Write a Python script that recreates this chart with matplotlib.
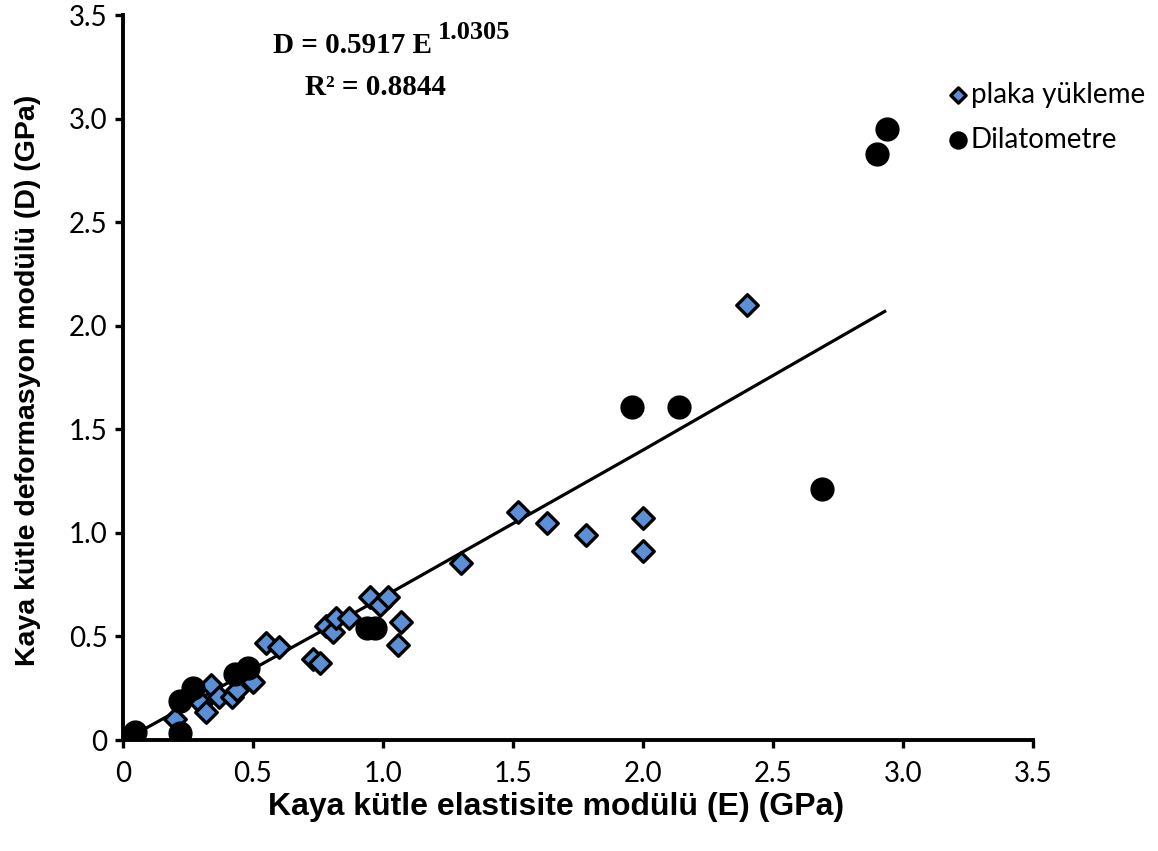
import numpy as np
import matplotlib
matplotlib.use("Agg")
import matplotlib.pyplot as plt

# plaka yükleme (plate loading) points
plaka_E = [0.20, 0.30, 0.32, 0.34, 0.37, 0.42, 0.44, 0.50, 0.55, 0.60,
           0.73, 0.76, 0.78, 0.81, 0.82, 0.87, 0.95, 0.99, 1.02, 1.06,
           1.07, 1.30, 1.52, 1.63, 1.78, 2.00, 2.00, 2.40]
plaka_D = [0.10, 0.18, 0.135, 0.265, 0.21, 0.21, 0.24, 0.28, 0.47, 0.45,
           0.39, 0.37, 0.55, 0.52, 0.59, 0.59, 0.69, 0.65, 0.69, 0.46,
           0.57, 0.855, 1.10, 1.05, 0.99, 1.07, 0.915, 2.10]

# Dilatometre points
dila_E = [0.046, 0.22, 0.22, 0.27, 0.43, 0.48, 0.94, 0.97, 1.96, 2.14,
          2.69, 2.90, 2.94]
dila_D = [0.04, 0.035, 0.19, 0.25, 0.32, 0.35, 0.54, 0.54, 1.61, 1.61,
          1.21, 2.83, 2.95]

# trend line as drawn
trend_E = [0.05, 1.0, 2.0, 2.93]
trend_D = [0.03, 0.69, 1.40, 2.07]

xticks = [0, 0.5, 1.0, 1.5, 2.0, 2.5, 3.0, 3.5]
xlabels = ["0", "0.5", "1.0", "1.5", "2.0", "2.5", "3.0", "3.5"]
yticks = xticks
ylabels = xlabels

tick_font = "Lato"
label_font = "Liberation Sans"
eq_font = "Liberation Serif"

fig = plt.figure(figsize=(11.58, 8.51), dpi=100)
ax = fig.add_axes([0.106, 0.1304, 0.786, 0.8516])

ax.plot(trend_E, trend_D, color="black", lw=2.3, zorder=2)
ax.scatter(plaka_E, plaka_D, marker="D", s=120, color="#5b8fd6",
           edgecolor="black", linewidths=2.4, zorder=3, label="plaka yükleme")
ax.scatter(dila_E, dila_D, marker="o", s=270, color="black",
           edgecolor="black", zorder=4, label="Dilatometre")

ax.set_xlim(0, 3.5)
ax.set_ylim(0, 3.5)
ax.set_xticks(xticks)
ax.set_xticklabels(xlabels)
ax.set_yticks(yticks)
ax.set_yticklabels(ylabels)
for lab in ax.get_xticklabels() + ax.get_yticklabels():
    lab.set_fontfamily(tick_font)
    lab.set_fontsize(20)
ax.tick_params(direction="out", length=6, width=2.4)
ax.tick_params(axis="x", pad=9)
ax.tick_params(axis="y", pad=5)
ax.spines["top"].set_visible(False)
ax.spines["right"].set_visible(False)
ax.spines["left"].set_linewidth(2.8)
ax.spines["bottom"].set_linewidth(2.8)

fig.text(0.48, 0.052, "Kaya kütle elastisite modülü (E) (GPa)", ha="center",
         va="center", fontsize=23, fontweight="bold", family=label_font)
fig.text(0.024, 0.553, "Kaya kütle deformasyon modülü (D) (GPa)", ha="center",
         va="center", rotation=90, fontsize=20.5, fontweight="bold",
         family=label_font)

fig.text(0.236, 0.946, "D = 0.5917 E", ha="left", va="center", fontsize=21,
         fontweight="bold", family=eq_font)
fig.text(0.378, 0.962, "1.0305", ha="left", va="center", fontsize=19,
         fontweight="bold", family=eq_font)
fig.text(0.263, 0.897, "R² = 0.8844", ha="left", va="center", fontsize=21,
         fontweight="bold", family=eq_font)

leg = fig.legend(loc="upper left", bbox_to_anchor=(0.818, 0.904),
                 frameon=False, handletextpad=0.05, labelspacing=0.68,
                 borderaxespad=0, borderpad=0, handlelength=0.8,
                 prop={"family": tick_font, "size": 20})
leg.legend_handles[0].set_sizes([60])
leg.legend_handles[1].set_sizes([150])

fig.savefig("out.png", dpi=100)
